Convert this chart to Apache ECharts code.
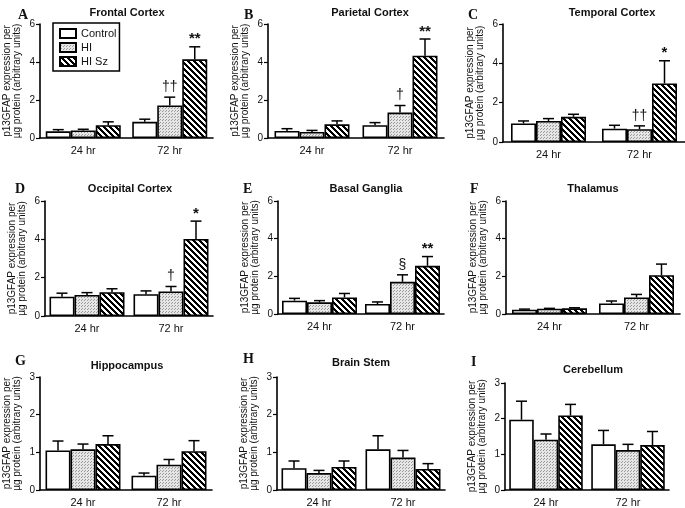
<!DOCTYPE html>
<html>
<head>
<meta charset="utf-8">
<script src="https://cdn.jsdelivr.net/npm/echarts@6/dist/echarts.min.js"></script>
<style>html,body{margin:0;padding:0;background:#fff}#chart{width:685px;height:508px}</style>
</head>
<body>
<div id="chart"></div>
<script>
// ---- data ----
const categories = ['24 hr', '72 hr'];
const seriesNames = ['Control', 'HI', 'HI Sz'];
const panelTitles = ['Frontal Cortex', 'Parietal Cortex', 'Temporal Cortex', 'Occipital Cortex', 'Basal Ganglia', 'Thalamus', 'Hippocampus', 'Brain Stem', 'Cerebellum'];
const panelLetters = ['A', 'B', 'C', 'D', 'E', 'F', 'G', 'H', 'I'];
const yMax = [6, 6, 6, 6, 6, 6, 3, 3, 3];
const yStep = [2, 2, 2, 2, 2, 2, 1, 1, 1];
const yAxisTitle = 'p13GFAP expression per\nµg protein (arbitrary units)';

// means [24 hr, 72 hr] per panel
const controlMean = [[0.35, 0.85], [0.37, 0.67], [0.94, 0.68], [1.01, 1.14], [0.71, 0.53], [0.23, 0.56], [1.05, 0.38], [0.58, 1.08], [1.97, 1.28]];
const hiMean      = [[0.40, 1.71], [0.32, 1.34], [1.07, 0.65], [1.10, 1.28], [0.62, 1.71], [0.28, 0.88], [1.08, 0.67], [0.45, 0.86], [1.41, 1.12]];
const hiSzMean    = [[0.67, 4.14], [0.72, 4.33], [1.28, 2.98], [1.24, 4.02], [0.88, 2.56], [0.30, 2.06], [1.22, 1.03], [0.61, 0.56], [2.09, 1.26]];
// SEM (upper error bar length)
const controlSem  = [[0.09, 0.14], [0.12, 0.14], [0.13, 0.17], [0.18, 0.17], [0.12, 0.11], [0.03, 0.13], [0.25, 0.07], [0.19, 0.36], [0.52, 0.39]];
const hiSem       = [[0.06, 0.44], [0.08, 0.37], [0.12, 0.17], [0.12, 0.26], [0.09, 0.37], [0.02, 0.16], [0.14, 0.14], [0.07, 0.19], [0.16, 0.16]];
const hiSzSem     = [[0.18, 0.66], [0.18, 0.88], [0.13, 1.15], [0.18, 0.93], [0.21, 0.49], [0.03, 0.59], [0.22, 0.28], [0.16, 0.14], [0.31, 0.38]];
// significance marks [24 hr, 72 hr]
const controlMarks = [['', ''], ['', ''], ['', ''], ['', ''], ['', ''], ['', ''], ['', ''], ['', ''], ['', '']];
const hiMarks      = [['', '††'], ['', '†'], ['', '††'], ['', '†'], ['', '§'], ['', ''], ['', ''], ['', ''], ['', '']];
const hiSzMarks    = [['', '**'], ['', '**'], ['', '*'], ['', '*'], ['', '**'], ['', ''], ['', ''], ['', ''], ['', '']];

// ---- layout ----
const grids = [
  {left: 40, top: 24, width: 173, height: 114},
  {left: 268, top: 24, width: 176, height: 114},
  {left: 503, top: 24, width: 182, height: 118},
  {left: 45, top: 201, width: 168, height: 115},
  {left: 278, top: 201, width: 166, height: 113},
  {left: 506, top: 201, width: 174, height: 113},
  {left: 40, top: 377, width: 172, height: 115},
  {left: 277, top: 377, width: 168, height: 115},
  {left: 505, top: 383, width: 164, height: 111}
];
const titlePos = [[122, 2], [365, 2], [607, 2], [125, 178], [361, 178], [588, 178], [122, 355], [356, 352], [588, 359]];
const letterPos = [[13, 3], [239, 3], [463, 3], [10, 177], [238, 177], [465, 177], [10, 349], [238, 347], [466, 350]];

// ---- patterns ----
function dotPattern() {
  const c = document.createElement('canvas'); c.width = 3; c.height = 3;
  const ctx = c.getContext('2d');
  ctx.fillStyle = '#e6e6e6'; ctx.fillRect(0, 0, 3, 3);
  ctx.fillStyle = '#9a9a9a'; ctx.fillRect(0, 0, 1, 1); ctx.fillRect(1, 2, 1, 1);
  return c;
}
function hatchPattern() {
  const s = 6, c = document.createElement('canvas'); c.width = s; c.height = s;
  const ctx = c.getContext('2d');
  const img = ctx.createImageData(s, s);
  for (let y = 0; y < s; y++) for (let x = 0; x < s; x++) {
    const on = ((x - y + 60) % s) < 3;
    const i = (y * s + x) * 4;
    const v = on ? 0 : 255;
    img.data[i] = v; img.data[i + 1] = v; img.data[i + 2] = v; img.data[i + 3] = 255;
  }
  ctx.putImageData(img, 0, 0);
  return c;
}
const fills = ['#ffffff', {image: dotPattern(), repeat: 'repeat'}, {image: hatchPattern(), repeat: 'repeat'}];
const means = [controlMean, hiMean, hiSzMean];
const sems = [controlSem, hiSem, hiSzSem];
const marks = [controlMarks, hiMarks, hiSzMarks];

const FONT = 'Liberation Sans, Arial, sans-serif';
const option = {
  animation: false,
  backgroundColor: '#fff',
  title: [],
  grid: [], xAxis: [], yAxis: [], series: [],
  legend: {
    left: 53, top: 23, orient: 'vertical',
    data: seriesNames,
    borderColor: '#000', borderWidth: 1.5, borderRadius: 0,
    padding: [5, 3, 4, 6], itemGap: 3, itemWidth: 16, itemHeight: 9,
    icon: 'rect',
    textStyle: {fontFamily: FONT, fontSize: 11, color: '#111'},
    selectedMode: false
  }
};

for (let p = 0; p < 9; p++) {
  const bw = p === 8 ? 24.5 : 25;
  option.grid.push(Object.assign({containLabel: false}, grids[p]));
  option.title.push({text: panelTitles[p], left: titlePos[p][0], top: titlePos[p][1], textAlign: 'center',
    textStyle: {fontFamily: FONT, fontWeight: 'bold', fontSize: 11, color: '#111'}});
  option.title.push({text: panelLetters[p], left: letterPos[p][0], top: letterPos[p][1],
    textStyle: {fontFamily: 'Liberation Serif, Times New Roman, serif', fontWeight: 'bold', fontSize: 14, color: '#111'}});
  option.xAxis.push({
    type: 'category', gridIndex: p, data: categories,
    axisLine: {lineStyle: {color: '#000', width: 1.6}},
    axisTick: {show: false},
    axisLabel: {fontFamily: FONT, fontSize: 11, color: '#111', margin: 7}
  });
  option.yAxis.push({
    type: 'value', gridIndex: p, min: 0, max: yMax[p], interval: yStep[p],
    name: yAxisTitle, nameLocation: 'middle', nameGap: 18, nameRotate: 90,
    nameTextStyle: {fontFamily: FONT, fontSize: 10, color: '#111', lineHeight: 10},
    axisLine: {show: true, lineStyle: {color: '#000', width: 1.6}},
    axisTick: {show: true, length: 4, lineStyle: {color: '#000', width: 1.2}},
    axisLabel: {fontFamily: FONT, fontSize: 10, color: '#111', margin: 5},
    splitLine: {show: false}
  });
  for (let s = 0; s < 3; s++) {
    option.series.push({
      type: 'bar', name: seriesNames[s], xAxisIndex: p, yAxisIndex: p,
      data: means[s][p], barWidth: bw, barGap: '0%',
      itemStyle: {color: fills[s], borderColor: '#000', borderWidth: 1.6},
      z: 2
    });
  }
  // error bars + marks
  const errData = [];
  for (let s = 0; s < 3; s++) for (let c = 0; c < 2; c++) {
    errData.push([c, s, means[s][p][c], means[s][p][c] + sems[s][p][c]]);
  }
  option.series.push({
    type: 'custom', name: 'err' + p, xAxisIndex: p, yAxisIndex: p, z: 5,
    data: errData,
    encode: {x: 0, y: 3},
    renderItem: (function (pi, barW) {
      return function (params, api) {
        const c = api.value(0), s = api.value(1);
        const m = api.value(2), t = api.value(3);
        const p0 = api.coord([c, m]), p1 = api.coord([c, t]);
        const x = p0[0] + (s - 1) * barW;
        const cap = 5.5;
        const st = {stroke: '#000', lineWidth: 1.5};
        const children = [
          {type: 'line', shape: {x1: x, y1: p0[1], x2: x, y2: p1[1]}, style: st},
          {type: 'line', shape: {x1: x - cap, y1: p1[1], x2: x + cap, y2: p1[1]}, style: st}
        ];
        const mk = marks[s][pi][c];
        if (mk) {
          const isStar = mk.indexOf('*') >= 0;
          children.push({type: 'text', x: x, y: p1[1] - (isStar ? 0 : 3),
            style: {text: mk, align: 'center', verticalAlign: 'bottom', fill: '#111',
              font: (isStar ? 'bold 15px ' : '14px ') + FONT}});
        }
        return {type: 'group', children: children};
      };
    })(p, bw)
  });
}

const chart = echarts.init(document.getElementById('chart'), null, {renderer: 'canvas', width: 685, height: 508});
chart.setOption(option);
</script>
</body>
</html>
